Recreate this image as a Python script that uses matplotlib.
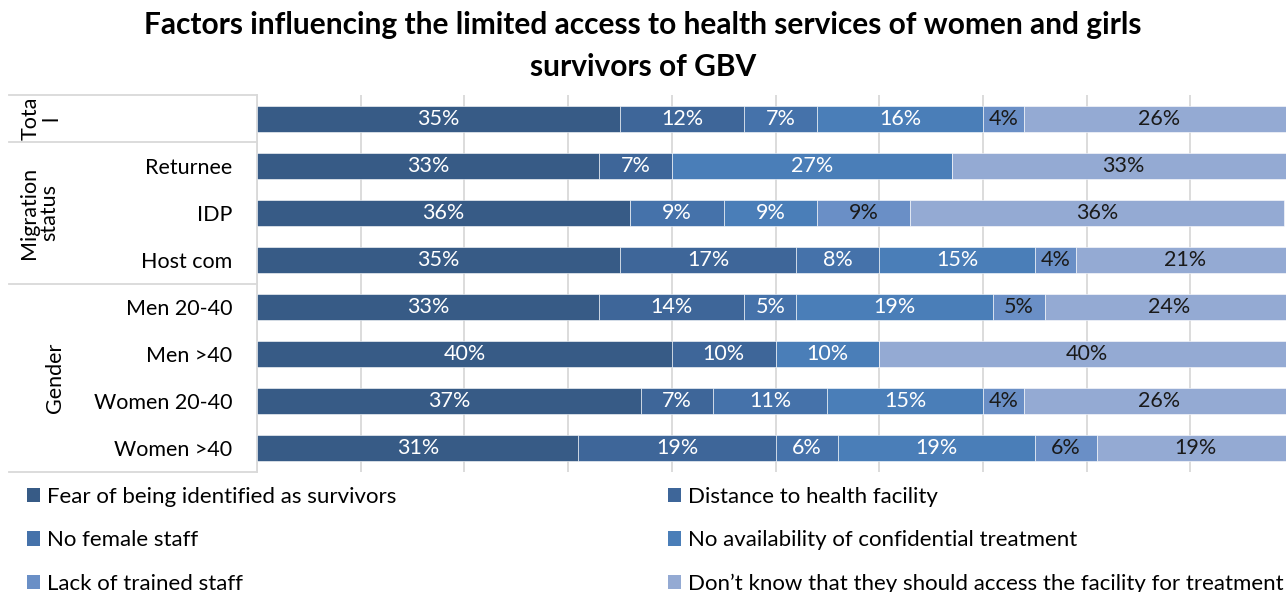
import matplotlib.pyplot as plt
import matplotlib.transforms as mtransforms
from matplotlib.patches import Patch
import numpy as np

plt.rcParams['font.family'] = ['Lato', 'DejaVu Sans']

categories = ['Total', 'Returnee', 'IDP', 'Host com', 'Men 20-40', 'Men >40', 'Women 20-40', 'Women >40']
tick_labels = ['', 'Returnee', 'IDP', 'Host com', 'Men 20-40', 'Men >40', 'Women 20-40', 'Women >40']

fear = [35, 33, 36, 35, 33, 40, 37, 31]
distance = [12, 7, 0, 17, 14, 10, 7, 19]
no_female = [7, 0, 9, 8, 5, 0, 11, 6]
no_confidential = [16, 27, 9, 15, 19, 10, 15, 19]
lack_trained = [4, 0, 9, 4, 5, 0, 4, 6]
dont_know = [26, 33, 36, 21, 24, 40, 26, 19]

series_names = ['Fear of being identified as survivors', 'Distance to health facility',
                'No female staff', 'No availability of confidential treatment',
                'Lack of trained staff', 'Don\u2019t know that they should access the facility for treatment']
series = [fear, distance, no_female, no_confidential, lack_trained, dont_know]
colors = ['#375B86', '#3E6699', '#4572AA', '#4A7EB8', '#6A8FC6', '#94AAD3']
text_colors = ['white', 'white', 'white', 'white', '#1a1a1a', '#1a1a1a']

fig = plt.figure(figsize=(12.86, 5.92), dpi=100)
ax = fig.add_axes([257 / 1286, 1 - 472 / 592, 1037 / 1286, 377 / 592])

y = np.arange(len(categories))
left = np.zeros(len(categories))
for name, vals, c, tc in zip(series_names, series, colors, text_colors):
    vals = np.array(vals, dtype=float)
    bars = ax.barh(y, vals, left=left, height=0.55, color=c, edgecolor='white',
                   linewidth=0.4, label=name, zorder=3)
    for b, v in zip(bars, vals):
        if v > 0:
            ax.text(b.get_x() + b.get_width() / 2, b.get_y() + b.get_height() / 2,
                    f'{v:.0f}%', ha='center', va='center', color=tc, fontsize=15.5, zorder=4)
    left += vals

ax.set_xlim(0, 100)
ax.set_ylim(7.5, -0.5)
ax.set_xticks(np.arange(0, 101, 10))
ax.xaxis.grid(True, color='#D9D9D9', linewidth=1.3, zorder=0)
ax.tick_params(axis='x', length=0, labelbottom=False)
ax.set_yticks(y)
ax.set_yticklabels(tick_labels, fontsize=15.5)
ax.tick_params(axis='y', length=0, pad=18)
for s in ['top', 'right', 'bottom']:
    ax.spines[s].set_visible(False)
ax.spines['left'].set_color('#D9D9D9')
ax.spines['left'].set_linewidth(1.3)

# group separators and group names on the left
trans = mtransforms.blended_transform_factory(ax.transAxes, ax.transData)
x0 = (9 - 257) / 1037
for yy in [-0.5, 0.5, 3.5, 7.5]:
    ax.plot([x0, 0], [yy, yy], color='#D9D9D9', linewidth=1.3, transform=trans, clip_on=False)

groups = [('Tota\nl', 0, 41), ('Migration\nstatus', 2, 39), ('Gender', 5.5, 55)]
for label, yc, xp in groups:
    ax.text((xp - 257) / 1037, yc, label, rotation=90, ha='center', va='center',
            fontsize=15.5, linespacing=1.0, transform=trans)

fig.text(0.5, 1 - 46 / 592, 'Factors influencing the limited access to health services of women and girls\nsurvivors of GBV',
         ha='center', va='center', fontsize=21.5, fontweight='bold', linespacing=1.6)

# legend in two columns, row-major order
handles = [Patch(facecolor=c) for c in colors]
for k, xl in enumerate([7, 648]):
    fig.legend(handles[k::2], series_names[k::2], loc='upper left',
               bbox_to_anchor=(xl / 1286, 1 - 467 / 592), frameon=False, fontsize=16,
               handlelength=0.6, handleheight=0.6, handletextpad=0.3, labelspacing=1.05)

fig.savefig('out.png', dpi=100)
